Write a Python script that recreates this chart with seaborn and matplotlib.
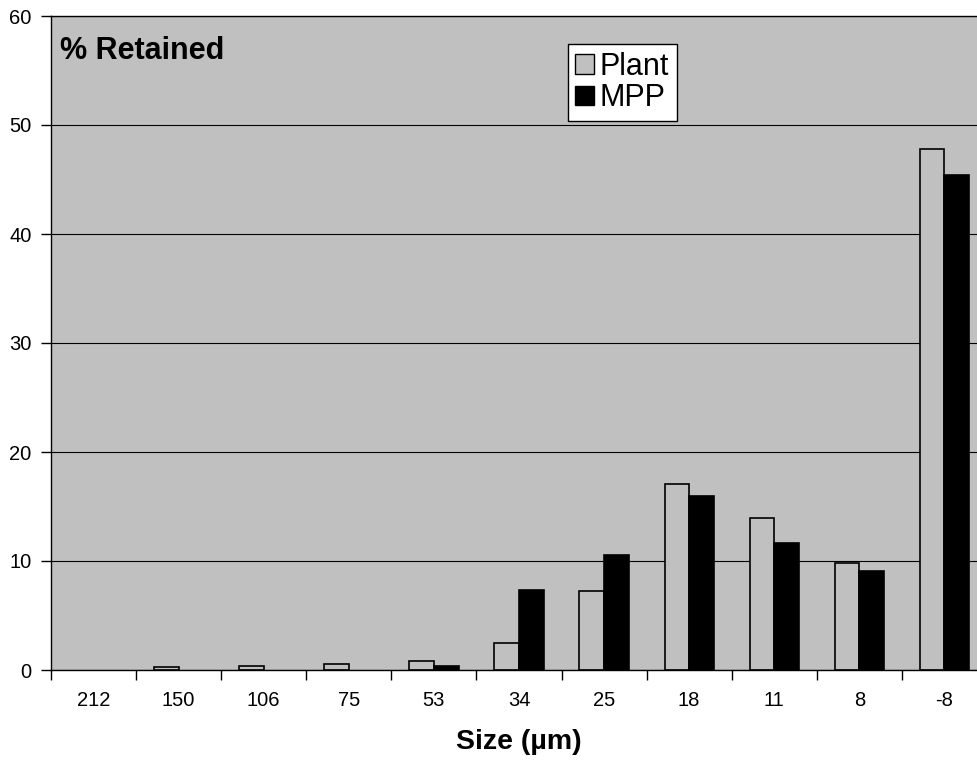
import pandas as pd
import seaborn as sns
import matplotlib.pyplot as plt
from matplotlib.patches import Patch

# Size classes (um) and % retained per series
sizes = ['212', '150', '106', '75', '53', '34', '25', '18', '11', '8', '-8']
plant = [0.0, 0.25, 0.4, 0.55, 0.8, 2.5, 7.25, 17.05, 13.9, 9.85, 47.8]
mpp = [0.0, 0.0, 0.0, 0.0, 0.4, 7.35, 10.55, 16.0, 11.65, 9.05, 45.4]
series = ['Plant', 'MPP']
colors = {'Plant': '#C0C0C0', 'MPP': '#000000'}


def build_frame():
    df = pd.DataFrame({'Size': sizes, 'Plant': plant, 'MPP': mpp})
    return df.melt(id_vars='Size', var_name='Series', value_name='Retained')


def plot_data(df):
    sns.set_style('white')
    plt.rcParams['font.family'] = ['Liberation Sans', 'DejaVu Sans']
    plt.rcParams['text.color'] = 'black'
    plt.rcParams['xtick.color'] = 'black'
    plt.rcParams['ytick.color'] = 'black'
    plt.rcParams['axes.labelcolor'] = 'black'
    fig = plt.figure(figsize=(9.77, 7.62), dpi=100)
    ax = fig.add_axes([51 / 977, 92 / 762, 936 / 977, 654 / 762])
    ax.set_facecolor('#C0C0C0')
    ax.set_axisbelow(True)
    ax.yaxis.grid(True, color='black', linewidth=0.8)

    sns.barplot(data=df, x='Size', y='Retained', hue='Series',
                hue_order=series, palette=colors, order=sizes,
                width=0.58, gap=0, edgecolor='black', linewidth=1.2,
                legend=False, ax=ax)
    # empty classes draw nothing at all
    for p in ax.patches:
        if p.get_height() == 0:
            p.set_linewidth(0)

    ax.set_xlim(-0.5, len(sizes) - 0.5)
    ax.set_ylim(0, 60)
    ax.set_yticks(range(0, 61, 10))
    ax.tick_params(axis='y', labelsize=14.5, length=7, width=1, direction='out',
                   left=True, pad=7)
    # category labels centred, tick marks on the boundaries
    ax.set_xticks(range(len(sizes)))
    ax.set_xticklabels(sizes)
    ax.tick_params(axis='x', which='major', length=0, labelsize=14.5, pad=15)
    ax.set_xticks([i - 0.5 for i in range(len(sizes) + 1)], minor=True)
    ax.tick_params(axis='x', which='minor', length=7, width=1,
                   direction='out', bottom=True)

    for s in ax.spines.values():
        s.set_color('black')
        s.set_linewidth(1)
    ax.spines['right'].set_visible(False)

    ax.set_xlabel('Size (\u00b5m)', fontsize=20.5, fontweight='bold', labelpad=14)
    ax.set_ylabel('')
    ax.text(0.01, 0.97, '% Retained', transform=ax.transAxes,
            fontsize=22, fontweight='bold', va='top', ha='left')

    handles = [Patch(facecolor=colors[s], edgecolor='black', label=s)
               for s in series]
    leg = ax.legend(handles=handles, loc='upper left',
                    bbox_to_anchor=(0.552, 0.957), fontsize=22,
                    handlelength=0.6, handleheight=0.6, handletextpad=0.2,
                    borderpad=0.25, labelspacing=0.05, borderaxespad=0,
                    fancybox=False, framealpha=1, edgecolor='black')
    leg.get_frame().set_linewidth(1)

    fig.savefig('out.png', dpi=100)


def main():
    df = build_frame()
    plot_data(df)


if __name__ == '__main__':
    main()
